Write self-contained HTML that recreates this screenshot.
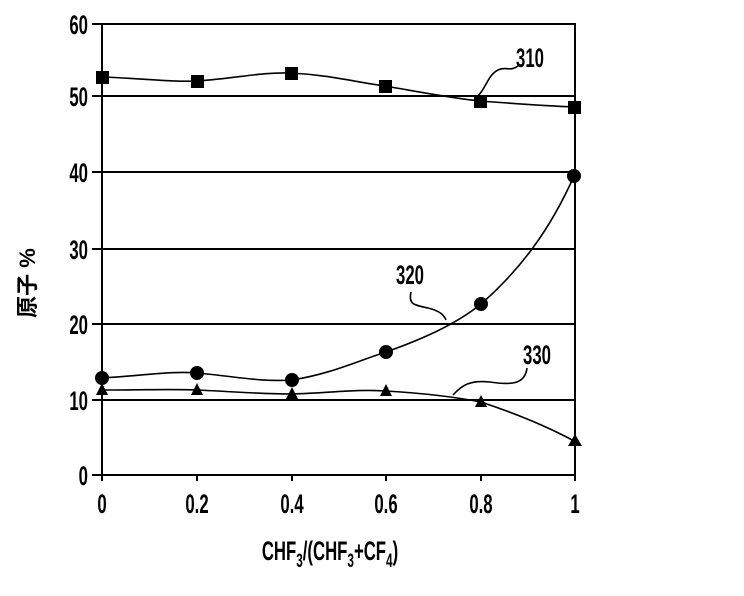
<!DOCTYPE html>
<html><head><style>body{margin:0;background:#fff}svg text{font-family:"Liberation Sans","Noto Sans CJK JP",sans-serif;font-weight:bold}</style></head><body>
<svg width="744" height="591" viewBox="0 0 744 591" xmlns="http://www.w3.org/2000/svg">
<g stroke="#000" stroke-width="2" fill="none">
<rect x="102" y="24" width="473" height="451"/>
<line x1="92" y1="96" x2="575" y2="96"/>
<line x1="92" y1="172" x2="575" y2="172"/>
<line x1="92" y1="249" x2="575" y2="249"/>
<line x1="92" y1="324" x2="575" y2="324"/>
<line x1="92" y1="400" x2="575" y2="400"/>
<line x1="92" y1="24" x2="102" y2="24"/><line x1="92" y1="475" x2="102" y2="475"/>
<line x1="197" y1="475" x2="197" y2="481"/><line x1="292" y1="475" x2="292" y2="481"/><line x1="386" y1="475" x2="386" y2="481"/><line x1="481" y1="475" x2="481" y2="481"/><line x1="575" y1="475" x2="575" y2="481"/><line x1="102" y1="475" x2="102" y2="481"/>
</g>
<g stroke="#000" stroke-width="1.6" fill="none">
<path d="M103,77 C150,79 170,82 197,81 C240,78 260,72 291,73 C330,75 355,82 385,86 C420,92 450,98 480,101 C520,104 550,106 574,107"/>
<path d="M102,378 C150,375 170,371 197,373 C240,377 260,382 292,380 C330,374 355,362 386,352 C420,340 455,325 481,304 C520,270 550,230 574,176"/>
<path d="M102,390 C150,390 170,389 197,390 C240,392 260,394 292,394 C330,393 355,389 386,391 C420,393 450,396 481,402 C520,415 550,428 574,441"/>
<path d="M478,96 C486,88 488,75 498,70 C506,66 510,72 518,66"/>
<path d="M411,292 C408,305 415,305 428,308 C440,311 444,315 446,320"/>
<path d="M527,368 C525,385 510,385 490,382 C470,380 462,385 453,395"/>
</g>
<g fill="#000">
<rect x="96" y="71" width="13" height="13"/><rect x="191" y="75" width="13" height="13"/><rect x="285" y="67" width="13" height="13"/><rect x="379" y="80" width="13" height="13"/><rect x="474" y="95" width="13" height="13"/><rect x="568" y="101" width="13" height="13"/>
<circle cx="102" cy="378" r="7"/><circle cx="197" cy="373" r="7"/><circle cx="292" cy="380" r="7"/><circle cx="386" cy="352" r="7"/><circle cx="481" cy="304" r="7"/><circle cx="574" cy="176" r="7"/>
<polygon points="102,383 96,395 108,395"/><polygon points="197,383 191,395 203,395"/><polygon points="292,387 286,399 298,399"/><polygon points="386,384 380,396 392,396"/><polygon points="481,395 475,407 487,407"/><polygon points="575,434 568,446 582,446"/>
</g>
<g font-size="27" text-anchor="end">
<text x="88" y="34" transform="scale(0.62,1)" transform-origin="88 34">60</text>
<text x="88" y="106" transform="scale(0.62,1)" transform-origin="88 106">50</text>
<text x="88" y="182" transform="scale(0.62,1)" transform-origin="88 182">40</text>
<text x="88" y="259" transform="scale(0.62,1)" transform-origin="88 259">30</text>
<text x="88" y="334" transform="scale(0.62,1)" transform-origin="88 334">20</text>
<text x="88" y="410" transform="scale(0.62,1)" transform-origin="88 410">10</text>
<text x="88" y="485" transform="scale(0.62,1)" transform-origin="88 485">0</text>
</g>
<g font-size="27" text-anchor="middle">
<text x="102" y="513" transform="scale(0.62,1)" transform-origin="102 513">0</text>
<text x="197" y="513" transform="scale(0.62,1)" transform-origin="197 513">0.2</text>
<text x="292" y="513" transform="scale(0.62,1)" transform-origin="292 513">0.4</text>
<text x="386" y="513" transform="scale(0.62,1)" transform-origin="386 513">0.6</text>
<text x="481" y="513" transform="scale(0.62,1)" transform-origin="481 513">0.8</text>
<text x="575" y="513" transform="scale(0.62,1)" transform-origin="575 513">1</text>
<text x="530" y="67" transform="scale(0.62,1)" transform-origin="530 67">310</text>
<text x="410" y="284" transform="scale(0.62,1)" transform-origin="410 284">320</text>
<text x="537" y="364" transform="scale(0.62,1)" transform-origin="537 364">330</text>
<text x="330" y="560" transform="scale(0.62,1)" transform-origin="330 560">CHF<tspan font-size="19" dy="7">3</tspan><tspan dy="-7">/(CHF</tspan><tspan font-size="19" dy="7">3</tspan><tspan dy="-7">+CF</tspan><tspan font-size="19" dy="7">4</tspan><tspan dy="-7">)</tspan></text>
</g>
<text x="0" y="0" font-size="22" font-weight="normal" transform="translate(35,283) rotate(-90)" text-anchor="middle">原子 %</text>
</svg>
</body></html>
